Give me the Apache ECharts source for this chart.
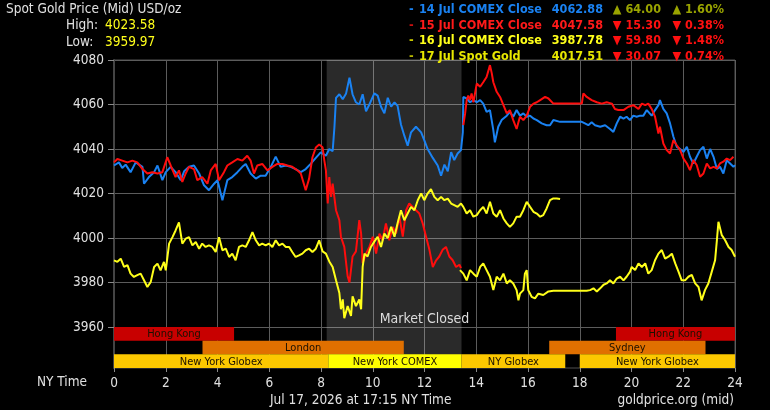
<!DOCTYPE html>
<html><head><meta charset="utf-8">
<script src="https://cdn.jsdelivr.net/npm/echarts@6/dist/echarts.min.js"></script>
<style>html,body{margin:0;padding:0;background:#000}#c{width:770px;height:410px}</style>
</head><body><div id="c"></div>
<script>
const FONT = "'DejaVu Sans Condensed','Liberation Sans',sans-serif";

// ---- axis ticks ----
const xTicks = [0, 2, 4, 6, 8, 10, 12, 14, 16, 18, 20, 22, 24];
const yTicks = [3960, 3980, 4000, 4020, 4040, 4060, 4080];
const yMin = 3941.6;

// ---- legend / header texts ----
const titleText = 'Spot Gold Price (Mid) USD/oz';
const highValue = '4023.58';
const lowValue = '3959.97';
const legendLabels = ['14 Jul COMEX Close', '15 Jul COMEX Close', '16 Jul COMEX Close', '17 Jul Spot Gold'];
const legendPrices = ['4062.88', '4047.58', '3987.78', '4017.51'];
const legendChanges = ['64.00', '15.30', '59.80', '30.07'];
const legendPcts = ['1.60%', '0.38%', '1.48%', '0.74%'];
const legendUp = [true, false, false, false];
const footerDate = 'Jul 17, 2026 at 17:15 NY Time';
const footerSource = 'goldprice.org (mid)';
const xAxisName = 'NY Time';

// ---- market sessions ----
const sessionNames = ['Hong Kong', 'Hong Kong', 'London', 'Sydney', 'New York Globex', 'New York COMEX', 'NY Globex', 'New York Globex'];
const sessionStart = [0, 19.4, 3.42, 16.82, 0, 8.29, 13.43, 18.0];
const sessionEnd = [4.64, 24, 11.2, 22.86, 8.29, 13.43, 17.44, 24];
const sessionRow = [0, 0, 1, 1, 2, 2, 2, 2];
const closedStart = 8.22, closedEnd = 13.43, closedLabelAt = [12, 3963.3];

// ---- price series [NY hour, price] ----
const jul14 = [[0,4032.6],[0.19,4034],[0.32,4031.5],[0.45,4033],[0.64,4029.6],[0.84,4034],[1.10,4032],[1.16,4024.4],[1.35,4027.4],[1.55,4029.6],[1.68,4032.6],[1.87,4026],[2.0,4029.6],[2.19,4032],[2.38,4029.6],[2.58,4026],[2.71,4030],[2.90,4032],[3.09,4032.6],[3.29,4029],[3.48,4023.7],[3.67,4021.5],[3.87,4024.4],[4.0,4026],[4.19,4017],[4.38,4026],[4.57,4027.4],[4.77,4029.6],[4.96,4032],[5.09,4033.3],[5.28,4029],[5.48,4026.7],[5.67,4028],[5.86,4028],[6.06,4032],[6.25,4036.6],[6.44,4032],[6.64,4032.6],[6.83,4032],[7.02,4031],[7.22,4029.6],[7.41,4031],[7.60,4033.3],[7.80,4036],[7.99,4038.5],[8.19,4037],[8.32,4040],[8.45,4039],[8.52,4050],[8.58,4063],[8.71,4064.6],[8.84,4062.4],[8.97,4065],[9.10,4072],[9.22,4064.6],[9.35,4061],[9.48,4060],[9.61,4064.6],[9.74,4057],[9.87,4060],[10.06,4065],[10.19,4064],[10.32,4059],[10.45,4056],[10.58,4063],[10.71,4059],[10.84,4061],[10.96,4059.4],[11.09,4051],[11.22,4046],[11.35,4041.5],[11.48,4047.5],[11.67,4050],[11.87,4047.5],[11.99,4044],[12.12,4040],[12.32,4036],[12.51,4032.6],[12.64,4028],[12.77,4033],[12.90,4030],[13.03,4038.6],[13.15,4035],[13.28,4038],[13.41,4039.5],[13.48,4047.5],[13.50,4063.4],[13.63,4062.7],[13.76,4061],[13.89,4062],[14.02,4061],[14.15,4062],[14.27,4060.4],[14.40,4056.7],[14.53,4057.5],[14.66,4048.5],[14.72,4043],[14.85,4050],[14.98,4053],[15.18,4055],[15.30,4056.7],[15.43,4054.5],[15.56,4057.5],[15.69,4055],[15.82,4056],[15.95,4054.5],[16.08,4055],[16.21,4053.7],[16.34,4053],[16.53,4051.5],[16.72,4050.7],[16.85,4050.7],[16.98,4053],[17.24,4052.2],[17.6,4052.2],[18.08,4052.2],[18.20,4051.5],[18.33,4050.7],[18.46,4052],[18.59,4050.7],[18.79,4050],[18.98,4050.7],[19.17,4049],[19.30,4047.7],[19.43,4051.5],[19.56,4054.5],[19.69,4053.7],[19.81,4054.5],[19.94,4053],[20.07,4055],[20.20,4054.5],[20.33,4055],[20.46,4055],[20.59,4057.5],[20.78,4055],[20.91,4057.5],[21.04,4059.7],[21.10,4062],[21.23,4058],[21.36,4056],[21.49,4051.5],[21.62,4045.5],[21.75,4041],[21.88,4040],[22.01,4038.7],[22.14,4041],[22.26,4036.5],[22.39,4033.5],[22.52,4036.5],[22.65,4039.5],[22.78,4041],[22.91,4035.7],[23.04,4040],[23.17,4036.5],[23.30,4031],[23.42,4032],[23.55,4029],[23.68,4035],[23.81,4033.5],[23.94,4032],[24,4032.8]];

const jul15 = [[0,4034],[0.13,4035.5],[0.32,4034.8],[0.52,4034],[0.71,4034.8],[0.90,4034],[1.10,4031],[1.29,4029],[1.48,4029.6],[1.68,4029],[1.87,4029.6],[2.06,4036.3],[2.19,4032.6],[2.38,4027.4],[2.51,4030.4],[2.64,4025.2],[2.77,4029],[2.90,4032],[3.09,4031],[3.22,4026],[3.41,4027.4],[3.61,4024.4],[3.74,4030.4],[3.93,4033.3],[4.06,4026],[4.25,4029.6],[4.38,4032.6],[4.57,4034],[4.77,4035.5],[4.96,4034.8],[5.15,4037],[5.28,4034.8],[5.41,4029],[5.54,4032.6],[5.73,4033.3],[5.93,4030.4],[6.12,4032],[6.31,4033.3],[6.51,4033.3],[6.70,4032.6],[6.89,4032],[7.09,4030.4],[7.22,4029],[7.41,4021.5],[7.54,4026.7],[7.67,4036.3],[7.80,4040.7],[7.93,4042],[8.06,4040.8],[8.13,4034.8],[8.19,4030.4],[8.26,4015.5],[8.32,4027.4],[8.39,4018.5],[8.45,4024.4],[8.58,4012.5],[8.71,4008],[8.77,4000.6],[8.90,3996],[9.03,3982.8],[9.10,3980],[9.22,3991.7],[9.35,3994],[9.48,4008],[9.55,4002],[9.61,3988.7],[9.74,3993],[9.87,3996],[10.0,4000.6],[10.13,3993],[10.26,4002],[10.38,3999],[10.51,4006.6],[10.64,3999],[10.77,4005],[10.90,4002],[11.03,4009.6],[11.16,4000.6],[11.29,4012.5],[11.41,4015.5],[11.54,4014],[11.67,4012.5],[11.80,4011],[11.93,4006.6],[12.06,4000.6],[12.19,3994.7],[12.32,3987],[12.45,3990],[12.57,3991.7],[12.70,3994.7],[12.83,3996],[12.96,3991.7],[13.09,3990],[13.22,3987],[13.35,3988],[13.41,3986.5],[13.45,null],
[13.50,4050.7],[13.57,4056],[13.63,4062],[13.69,4064],[13.76,4062],[13.82,4065],[13.89,4061],[14.02,4069.4],[14.15,4068],[14.27,4070],[14.40,4072.4],[14.53,4077.7],[14.60,4074],[14.66,4070],[14.79,4065.7],[14.92,4063.4],[15.05,4059.7],[15.18,4056],[15.30,4057.5],[15.43,4053],[15.56,4049],[15.63,4052],[15.69,4054.5],[15.82,4053],[15.95,4055],[16.08,4059],[16.21,4060.4],[16.34,4061],[16.47,4062],[16.66,4063.4],[16.79,4062.7],[16.98,4060.4],[17.5,4060.4],[18.08,4060.4],[18.14,4065],[18.27,4063.4],[18.46,4062],[18.66,4061],[18.85,4060.4],[19.04,4061],[19.24,4060.4],[19.36,4058],[19.49,4057.5],[19.69,4057.5],[19.88,4059],[20.07,4059.7],[20.27,4058],[20.40,4060.4],[20.53,4059.7],[20.65,4060.4],[20.78,4058],[20.91,4054.5],[21.04,4047],[21.10,4050],[21.23,4042.5],[21.36,4039.5],[21.49,4038],[21.62,4044],[21.75,4041.7],[21.88,4039.5],[22.01,4035.7],[22.14,4033.5],[22.26,4030.5],[22.39,4035],[22.52,4032.8],[22.65,4027.5],[22.78,4029],[22.91,4033.5],[23.04,4031.3],[23.17,4032],[23.30,4031.3],[23.42,4033.5],[23.55,4034.3],[23.68,4035.7],[23.81,4035],[23.94,4036.5]];

const jul16 = [[13.37,3985.6],[13.50,3984],[13.63,3981],[13.76,3985.6],[13.89,3984],[14.02,3982.6],[14.15,3987],[14.27,3988.6],[14.40,3985.6],[14.53,3982.6],[14.66,3976.6],[14.79,3982.6],[14.92,3981],[15.05,3984],[15.18,3979.6],[15.30,3981],[15.43,3979.6],[15.56,3976.6],[15.63,3972],[15.69,3975],[15.82,3976.6],[15.88,3984],[15.95,3985.6],[16.01,3976.6],[16.14,3973.6],[16.27,3972.9],[16.40,3975],[16.59,3974.4],[16.79,3976],[16.98,3976.3],[17.6,3976.3],[18.27,3976.3],[18.40,3976.6],[18.53,3977.4],[18.66,3976],[18.79,3977.4],[18.92,3979],[19.04,3979.6],[19.17,3981],[19.30,3979.6],[19.43,3981.8],[19.56,3982.6],[19.69,3981],[19.81,3982.6],[19.94,3984.8],[20.01,3987],[20.14,3985.6],[20.27,3988.6],[20.40,3987],[20.53,3988.6],[20.65,3984],[20.78,3985.6],[20.91,3990],[21.04,3993],[21.17,3994.6],[21.30,3990.8],[21.43,3991.6],[21.56,3993],[21.69,3988.6],[21.82,3984.8],[21.94,3981],[22.07,3981],[22.20,3982.6],[22.33,3983.4],[22.46,3979.6],[22.59,3978],[22.71,3972],[22.84,3976.6],[22.97,3979.6],[23.10,3984.8],[23.23,3990],[23.30,3999],[23.36,4007.3],[23.49,4001.3],[23.62,3999],[23.75,3996],[23.87,3994.6],[24,3991.6]];

const jul17 = [[0,3990],[0.13,3989.3],[0.26,3990.7],[0.39,3987],[0.52,3987.8],[0.64,3984],[0.77,3982.5],[0.90,3983.3],[1.03,3984],[1.16,3981],[1.29,3978],[1.42,3980.3],[1.55,3987],[1.68,3988.5],[1.80,3985.5],[1.93,3989.3],[2.0,3985.5],[2.13,3997.5],[2.26,4000.4],[2.38,4003.4],[2.51,4007],[2.64,3997.5],[2.77,3999.7],[2.90,4000.4],[3.03,3996.7],[3.16,3998.2],[3.29,3995.2],[3.41,3997.5],[3.54,3996],[3.67,3996.7],[3.80,3996],[3.93,3993.7],[4.06,4000.4],[4.19,3994.5],[4.32,3995.2],[4.45,3991.5],[4.57,3993],[4.70,3990],[4.83,3996],[4.96,3996.7],[5.09,3996],[5.22,3999],[5.35,4002.7],[5.48,3999],[5.61,3996.7],[5.73,3997.5],[5.86,3996.7],[5.99,3997.5],[6.12,3996],[6.25,3999],[6.38,3996.7],[6.51,3997.5],[6.64,3996],[6.77,3996],[6.89,3993.7],[7.02,3991.5],[7.15,3992.2],[7.28,3993],[7.41,3994.5],[7.54,3995.2],[7.67,3993.7],[7.80,3995.2],[7.93,3999],[8.06,3994],[8.19,3993],[8.32,3989.5],[8.45,3987],[8.58,3981],[8.71,3975.3],[8.77,3968],[8.84,3972.4],[8.90,3964],[9.03,3969.4],[9.16,3965],[9.22,3973.8],[9.35,3969.4],[9.48,3972.4],[9.55,3968],[9.61,3987],[9.68,3993],[9.80,3991.7],[9.93,3996],[10.06,3998.4],[10.19,4000.6],[10.32,3996],[10.45,4002],[10.58,4000],[10.71,4005],[10.84,4000.6],[10.96,4006.6],[11.09,4012.5],[11.22,4008],[11.35,4011],[11.48,4014],[11.61,4012.5],[11.74,4017],[11.87,4020],[11.99,4017],[12.12,4020],[12.25,4022],[12.38,4018.5],[12.51,4017],[12.64,4018.5],[12.77,4017],[12.90,4017.7],[13.03,4015.5],[13.15,4014.8],[13.28,4014],[13.41,4015.5],[13.50,4014],[13.63,4011],[13.76,4012.5],[13.89,4009.6],[14.02,4010.3],[14.15,4012.5],[14.27,4014],[14.40,4011],[14.53,4016.3],[14.66,4011],[14.79,4009.6],[14.92,4012.5],[15.05,4008.8],[15.18,4006.6],[15.30,4005],[15.43,4006.6],[15.56,4009.6],[15.69,4009.6],[15.82,4012.5],[15.95,4016.3],[16.08,4014],[16.21,4011.8],[16.34,4011],[16.47,4009.6],[16.59,4010.3],[16.72,4013.3],[16.85,4017],[16.98,4017.8],[17.11,4017.8],[17.24,4017.5]];

// ---- styles ----
const BLUE = '#1a82f2', RED = '#ff0d0d', YELLOW = '#ffff1a';
const sessionColors = {'Hong Kong':'#c80000','London':'#e07000','Sydney':'#e07000','New York Globex':'#fcc800','NY Globex':'#fcc800','New York COMEX':'#ffff00'};
const rowText = [
  {dash:'#1a82f2', label:'#1a82f2', price:'#1a82f2'},
  {dash:'#c81010', label:'#ff1a1a', price:'#ff1a1a'},
  {dash:'#c8c800', label:'#ffff1a', price:'#ffff1a'},
  {dash:'#b4b400', label:'#e8e800', price:'#e8e800'}
];
const UPC = '#9aa400', DOWNC = '#ff1010';
const NF = '13.5px ' + FONT;

const chart = echarts.init(document.getElementById('c'), null, {renderer:'canvas'});

const graphics = [];
function txt(x, y, text, fill, font, align) {
  graphics.push({type:'text', x:x, y:y, z:10, silent:true,
    style:{text:text, fill:fill, font:font, align:align||'left', verticalAlign:'middle'}});
}
txt(6, 9, titleText, '#e0e0e0', NF);
txt(66, 25, 'High:', '#e0e0e0', NF);
txt(105, 25, highValue, '#ffff1a', NF);
txt(66, 42, 'Low:', '#e0e0e0', NF);
txt(105, 42, lowValue, '#ffff1a', NF);
const rowY = [9.5, 25.3, 41, 56.8];
legendLabels.forEach(function (lab, i) {
  const bf = 'bold 12.5px ' + FONT;
  const cc = legendUp[i] ? UPC : DOWNC;
  const arrow = legendUp[i] ? '\u25B2 ' : '\u25BC ';
  txt(409, rowY[i], '-', rowText[i].dash, bf);
  txt(419, rowY[i], lab, rowText[i].label, bf);
  txt(603, rowY[i], legendPrices[i], rowText[i].price, bf, 'right');
  txt(661, rowY[i], arrow + legendChanges[i], cc, bf, 'right');
  txt(724, rowY[i], arrow + legendPcts[i], cc, bf, 'right');
});
txt(37, 382, xAxisName, '#e0e0e0', NF);
txt(270, 400, footerDate, '#e0e0e0', NF);
txt(734, 400, footerSource, '#e0e0e0', NF, 'right');

const sessionData = sessionStart.map(function (s, i) { return [s, sessionEnd[i], sessionRow[i], i, yTicks[0]]; });

function lineSeries(name, data, color, z) {
  return {name:name, type:'line', data:data, showSymbol:false, symbol:'none', z:z,
    lineStyle:{color:color, width:2}, itemStyle:{color:color}, connectNulls:false, animation:false};
}

chart.setOption({
  backgroundColor:'#000',
  animation:false,
  graphic: graphics,
  grid:{left:114, right:35, top:60, bottom:42, show:true, borderColor:'#505050', borderWidth:1, backgroundColor:'transparent'},
  xAxis:{type:'value', min:0, max:24, interval:2,
    axisLine:{show:false},
    axisTick:{show:true, length:4, lineStyle:{color:'#8a8a8a'}},
    axisLabel:{color:'#e0e0e0', fontFamily:FONT, fontSize:13.5, margin:8, showMinLabel:true, showMaxLabel:true},
    splitLine:{show:true, lineStyle:{color:'#5c5c5c', width:1}}},
  yAxis:{type:'value', min:yMin, max:4080,
    axisLine:{show:true, lineStyle:{color:'#444', width:2}},
    axisTick:{show:true, length:6, customValues:yTicks, lineStyle:{color:'#8a8a8a'}},
    axisLabel:{color:'#e0e0e0', fontFamily:FONT, fontSize:13.5, margin:10, customValues:yTicks,
      formatter:function (v) { return String(Math.round(v)); }},
    splitLine:{show:true, lineStyle:{color:'#5c5c5c', width:1}}},
  series:[
    {name:'closed', type:'line', data:[], z:1, silent:true,
      markArea:{silent:true, itemStyle:{color:'rgba(255,255,255,0.165)'}, data:[[{xAxis:closedStart},{xAxis:closedEnd}]]},
      markPoint:{silent:true, symbol:'rect', symbolSize:0, data:[{coord:closedLabelAt}],
        label:{show:true, position:'inside', formatter:'Market Closed', color:'#dcdcdc', fontFamily:FONT, fontSize:14}}},
    lineSeries('14 Jul COMEX Close', jul14, BLUE, 2),
    lineSeries('15 Jul COMEX Close', jul15, RED, 3),
    lineSeries('16 Jul COMEX Close', jul16, YELLOW, 4),
    lineSeries('17 Jul Spot Gold', jul17, YELLOW, 5),
    {name:'sessions', type:'custom', z:6, silent:true, data:sessionData,
      dimensions:['start','end','row','idx','anchor'],
      encode:{x:[0,1], y:4},
      renderItem:function (params, api) {
        const s = api.value(0), e = api.value(1), row = api.value(2), idx = api.value(3);
        const top = api.coord([0, yTicks[0]])[1];
        const bottom = api.coord([0, yMin])[1];
        const h = (bottom - top) / 3;
        const x0 = api.coord([s, yMin])[0], x1 = api.coord([e, yMin])[0];
        const y0 = top + row * h;
        const name = sessionNames[idx];
        return {type:'group', children:[
          {type:'rect', shape:{x:x0, y:y0, width:x1 - x0, height:h}, style:{fill:sessionColors[name]}},
          {type:'text', style:{text:name, x:(x0 + x1) / 2, y:y0 + h / 2 + 0.5, fill:'#1a1000', font:'11px ' + FONT, align:'center', verticalAlign:'middle'}}
        ]};
      }}
  ]
});
</script></body></html>
